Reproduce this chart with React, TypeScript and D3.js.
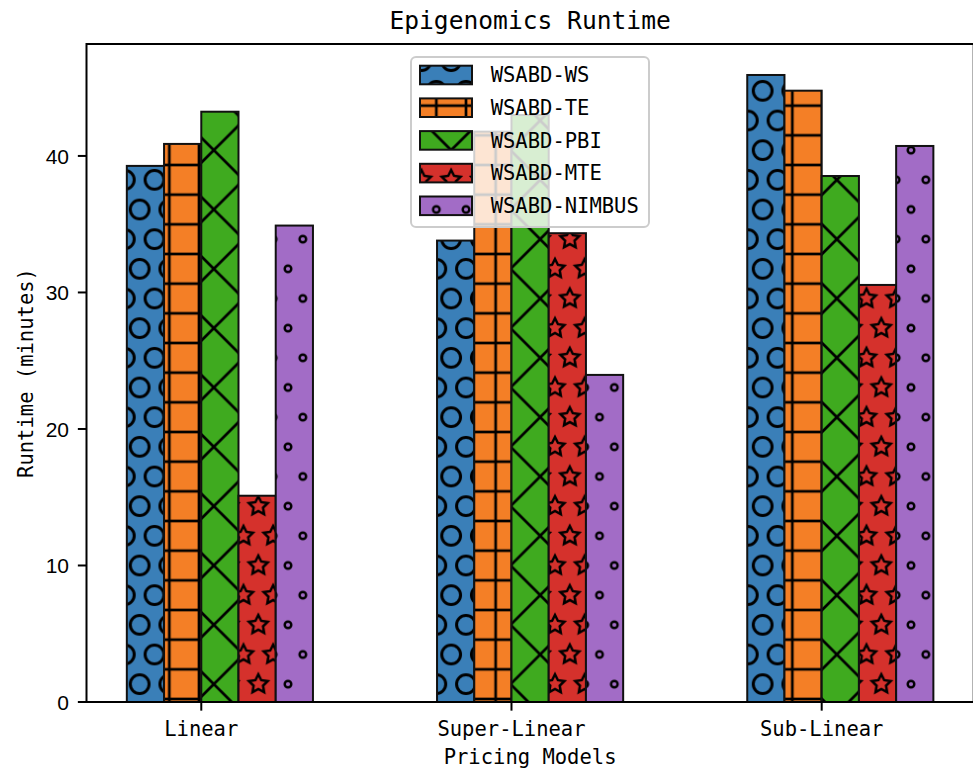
import { useEffect, useRef } from "react";
import * as d3 from "d3";

const categories = ["Linear", "Super-Linear", "Sub-Linear"];
const seriesNames = ["WSABD-WS", "WSABD-TE", "WSABD-PBI", "WSABD-MTE", "WSABD-NIMBUS"];
const wsValues = [39.27, 33.8, 45.93];
const teValues = [40.88, 41.78, 44.78];
const pbiValues = [43.24, 43.0, 38.53];
const mteValues = [15.11, 34.34, 30.55];
const nimbusValues = [34.9, 23.96, 40.73];
const yTicks = [0, 10, 20, 30, 40];

const colors = ["#3a7fb8", "#f47f26", "#3faa1f", "#d5312c", "#a26cc6"];
const hatches = ["bigO", "plus", "cross", "star", "smallO"];

const W = 973;
const H = 772;
const MONO = "'DejaVu Sans Mono', monospace";

const App = () => {
  const ref = useRef<SVGSVGElement>(null);

  useEffect(() => {
    const svg = d3.select(ref.current);
    svg.selectAll("*").remove();

    const left = 86.5, right = 973.7, top = 44, bottom = 702;
    const x = d3.scaleLinear().domain([-0.37, 2.49]).range([left, right]);
    const y = d3.scaleLinear().domain([0, 48.2]).range([bottom, top]);
    const barW = 0.12;

    const series = [wsValues, teValues, pbiValues, mteValues, nimbusValues].map((v, i) => ({
      name: seriesNames[i],
      values: v,
      color: colors[i],
      hatch: hatches[i],
    }));

    // hatch patterns, all on one global grid like agg does it
    const p = 178 / 6;
    const ox = 6.17, oy = 1.83;
    const hw = 2.7;
    const defs = svg.append("defs");
    const pat = (id: string, w: number, h: number) =>
      defs.append("pattern").attr("id", id).attr("patternUnits", "userSpaceOnUse")
        .attr("x", ox).attr("y", oy).attr("width", w).attr("height", h);

    const lattice = [[0, 0], [p, 0], [0, 2 * p], [p, 2 * p], [p / 2, p]];

    const big = pat("bigO", p, 2 * p);
    lattice.forEach(([cx, cy]) =>
      big.append("circle").attr("cx", cx).attr("cy", cy).attr("r", 9.4)
        .attr("fill", "none").attr("stroke", "#000").attr("stroke-width", 3));

    const small = pat("smallO", p, 2 * p);
    lattice.forEach(([cx, cy]) =>
      small.append("circle").attr("cx", cx).attr("cy", cy).attr("r", 3.3)
        .attr("fill", "none").attr("stroke", "#000").attr("stroke-width", 2.4));

    const starPath = (cx: number, cy: number, r: number) => {
      const pts = d3.range(10).map((k) => {
        const t = Math.PI / 2 + (k * 2 * Math.PI) / 10;
        const rr = k % 2 === 0 ? r : r * 0.5;
        return [cx + rr * Math.cos(t), cy - rr * Math.sin(t)];
      });
      return "M" + pts.map((d) => d.join(",")).join("L") + "Z";
    };
    const star = pat("star", p, 2 * p);
    lattice.forEach(([cx, cy]) =>
      star.append("path").attr("d", starPath(cx, cy, p / 3))
        .attr("fill", "none").attr("stroke", "#000").attr("stroke-width", 2.5)
        .attr("stroke-linejoin", "miter"));

    const plus = pat("plus", p, p);
    plus.append("line").attr("x1", p / 2).attr("x2", p / 2).attr("y1", 0).attr("y2", p)
      .attr("stroke", "#000").attr("stroke-width", hw);
    plus.append("line").attr("y1", p / 2).attr("y2", p / 2).attr("x1", 0).attr("x2", p)
      .attr("stroke", "#000").attr("stroke-width", hw);

    const s = 2 * p;
    const cross = pat("cross", s, s);
    [-1, 0, 1].forEach((k) =>
      cross.append("line").attr("x1", 0).attr("y1", k * s).attr("x2", s).attr("y2", s + k * s)
        .attr("stroke", "#000").attr("stroke-width", hw));
    [0, 1, 2].forEach((k) =>
      cross.append("line").attr("x1", 0).attr("y1", k * s).attr("x2", s).attr("y2", k * s - s)
        .attr("stroke", "#000").attr("stroke-width", hw));

    // bars
    const bw = x(barW) - x(0);
    series.forEach((sr, i) => {
      const g = svg.append("g");
      sr.values.forEach((v, j) => {
        const bx = x(j + (i - 2) * barW);
        const by = y(v);
        const bh = y(0) - y(v);
        g.append("rect").attr("x", bx).attr("y", by).attr("width", bw).attr("height", bh).attr("fill", sr.color);
        g.append("rect").attr("x", bx).attr("y", by).attr("width", bw).attr("height", bh).attr("fill", `url(#${sr.hatch})`);
        g.append("rect").attr("x", bx).attr("y", by).attr("width", bw).attr("height", bh)
          .attr("fill", "none").attr("stroke", "#111").attr("stroke-width", 2);
      });
    });

    // axes box
    svg.append("rect").attr("x", left).attr("y", top).attr("width", right - left).attr("height", bottom - top)
      .attr("fill", "none").attr("stroke", "#000").attr("stroke-width", 2);

    // y ticks
    const yg = svg.append("g");
    yTicks.forEach((t) => {
      yg.append("line").attr("x1", left - 8.65).attr("x2", left).attr("y1", y(t)).attr("y2", y(t))
        .attr("stroke", "#000").attr("stroke-width", 2);
      yg.append("text").attr("x", left - 17.5).attr("y", y(t)).attr("dy", "0.36em")
        .attr("text-anchor", "end").attr("font-family", "'Liberation Sans', Arial, sans-serif")
        .attr("font-size", 21).text(t);
    });

    // x ticks
    const xg = svg.append("g");
    categories.forEach((c, j) => {
      xg.append("line").attr("x1", x(j)).attr("x2", x(j)).attr("y1", bottom).attr("y2", bottom + 8.65)
        .attr("stroke", "#000").attr("stroke-width", 2);
      xg.append("text").attr("x", x(j)).attr("y", 735.5).attr("text-anchor", "middle")
        .attr("font-family", MONO).attr("font-size", 20.5).text(c);
    });

    const cx = (left + right) / 2;
    svg.append("text").attr("x", cx).attr("y", 763.5).attr("text-anchor", "middle")
      .attr("font-family", MONO).attr("font-size", 20.5).text("Pricing Models");
    svg.append("text").attr("transform", `translate(33, ${(top + bottom) / 2}) rotate(-90)`)
      .attr("text-anchor", "middle").attr("font-family", MONO).attr("font-size", 20.5)
      .text("Runtime (minutes)");
    svg.append("text").attr("x", cx).attr("y", 29).attr("text-anchor", "middle")
      .attr("font-family", MONO).attr("font-size", 24.6).text("Epigenomics Runtime");

    // legend
    const lg = svg.append("g");
    lg.append("rect").attr("x", 411).attr("y", 57).attr("width", 238).attr("height", 170).attr("rx", 5)
      .attr("fill", "#fff").attr("fill-opacity", 0.8).attr("stroke", "#cccccc").attr("stroke-width", 2);
    series.forEach((sr, i) => {
      const cy = 75 + i * 32.7;
      lg.append("rect").attr("x", 420).attr("y", cy - 9.3).attr("width", 52).attr("height", 18.6).attr("fill", sr.color);
      lg.append("rect").attr("x", 420).attr("y", cy - 9.3).attr("width", 52).attr("height", 18.6).attr("fill", `url(#${sr.hatch})`);
      lg.append("rect").attr("x", 420).attr("y", cy - 9.3).attr("width", 52).attr("height", 18.6)
        .attr("fill", "none").attr("stroke", "#111").attr("stroke-width", 2);
      lg.append("text").attr("x", 490.7).attr("y", cy + 7.3).attr("font-family", MONO)
        .attr("font-size", 20.5).text(sr.name);
    });
  }, []);

  return (
    <svg ref={ref} width={W} height={H}
      style={{ position: "absolute", left: 0, top: 0, background: "#fff" }} />
  );
};

export default App;
